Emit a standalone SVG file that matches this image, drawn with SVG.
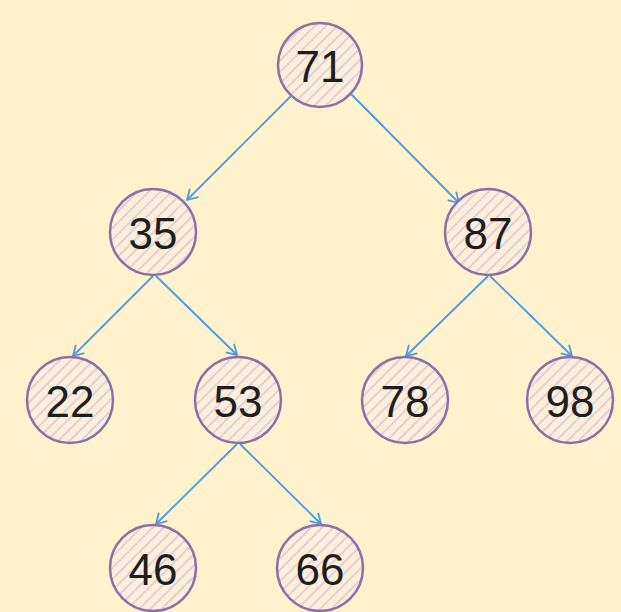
<svg xmlns="http://www.w3.org/2000/svg" width="621" height="612" viewBox="0 0 621 612">
<defs>
<pattern id="hatch" patternUnits="userSpaceOnUse" width="8" height="8" patternTransform="rotate(45)">
<rect width="8" height="8" fill="#fdf0d6"/>
<line x1="0" y1="0" x2="0" y2="8" stroke="#dccbe6" stroke-width="3.5"/>
</pattern>
<marker id="arr" markerWidth="14" markerHeight="14" refX="11" refY="7" orient="auto" markerUnits="userSpaceOnUse">
<path d="M1,1 L11,7 L1,13" fill="none" stroke="#4a9be6" stroke-width="1.8" stroke-linejoin="round"/>
</marker>
<style>
.n circle{fill:url(#hatch);stroke:#8e6fa6;stroke-width:2.5}
.n text{font-family:"Liberation Sans",Arial,sans-serif;font-size:44px;fill:#1e1e1e;text-anchor:middle;dominant-baseline:central}
.e line{stroke:#4a9be6;stroke-width:1.8;marker-end:url(#arr)}
</style>
</defs>
<rect width="621" height="612" fill="#fff2cc"/>
<g id="edges" class="e">
<line x1="292" y1="95" x2="187" y2="200"/>
<line x1="350" y1="93" x2="459" y2="203"/>
<line x1="153" y1="276" x2="73" y2="356"/>
<line x1="156" y1="276" x2="237" y2="355"/>
<line x1="488" y1="276" x2="406" y2="356"/>
<line x1="490" y1="276" x2="572" y2="356"/>
<line x1="237" y1="444" x2="156" y2="524"/>
<line x1="240" y1="444" x2="321" y2="524"/>
</g>
<g id="n71" class="n"><circle cx="320" cy="65" r="42"/><text x="320" y="66">71</text></g>
<g id="n35" class="n"><circle cx="153" cy="232" r="43"/><text x="153" y="233">35</text></g>
<g id="n87" class="n"><circle cx="488" cy="232" r="43"/><text x="488" y="233">87</text></g>
<g id="n22" class="n"><circle cx="70" cy="400" r="43"/><text x="70" y="401">22</text></g>
<g id="n53" class="n"><circle cx="238" cy="400" r="43"/><text x="238" y="401">53</text></g>
<g id="n78" class="n"><circle cx="405" cy="400" r="43"/><text x="405" y="401">78</text></g>
<g id="n98" class="n"><circle cx="570" cy="400" r="43"/><text x="570" y="401">98</text></g>
<g id="n46" class="n"><circle cx="153" cy="568" r="43"/><text x="153" y="569">46</text></g>
<g id="n66" class="n"><circle cx="320" cy="568" r="43"/><text x="320" y="569">66</text></g>
</svg>
